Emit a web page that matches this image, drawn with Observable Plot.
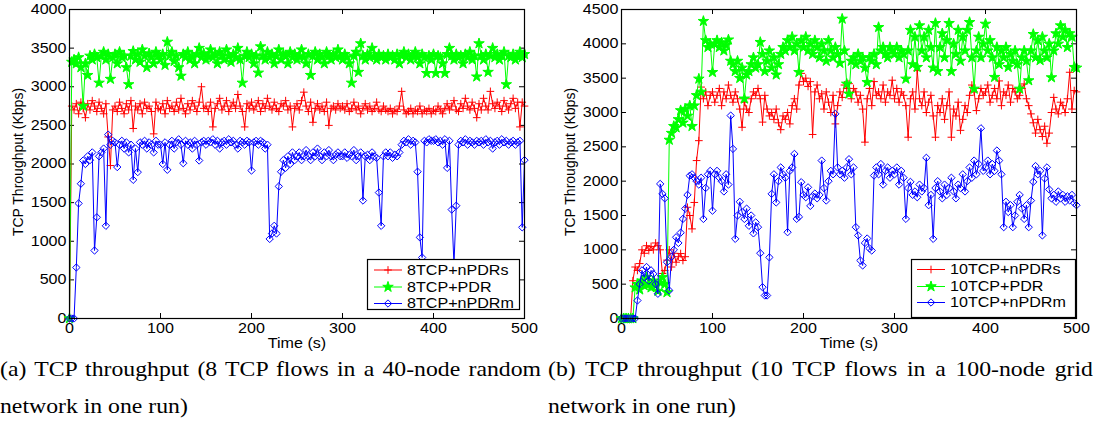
<!DOCTYPE html>
<html><head><meta charset="utf-8">
<script src="https://cdn.jsdelivr.net/npm/d3@7"></script>
<script src="https://cdn.jsdelivr.net/npm/@observablehq/plot@0.6"></script>
<style>
html,body{margin:0;padding:0;background:#fff;}
#root{position:relative;width:1101px;height:426px;overflow:hidden;background:#fff;}
.cap{position:absolute;font-family:"Liberation Serif","Times New Roman",serif;font-size:21px;line-height:21px;color:#000;transform-origin:0 0;white-space:nowrap;}
.cap.j{white-space:normal;text-align:justify;text-align-last:justify;}
</style></head><body><div id="root"></div>
<script>
const timeStep = 2.5;
const xTicks = [0, 100, 200, 300, 400, 500];
const yTicksA = [0, 500, 1000, 1500, 2000, 2500, 3000, 3500, 4000];
const yTicksB = [0, 500, 1000, 1500, 2000, 2500, 3000, 3500, 4000, 4500];
const xLabel = "Time (s)";
const yLabel = "TCP Throughput (Kbps)";
const legendA = ["8TCP+nPDRs", "8TCP+PDR", "8TCP+nPDRm"];
const legendB = ["10TCP+nPDRs", "10TCP+PDR", "10TCP+nPDRm"];
const captionA = ["(a) TCP throughput (8 TCP flows in a 40-node random", "network in one run)"];
const captionB = ["(b) TCP throughput (10 TCP flows in a 100-node grid", "network in one run)"];

const aNPDRs = [
0,2750,2700,2780,2650,2800,2720,2600,2780,2700,2820,2750,2680,2800,2720,2650,2780,2350,1980,2700,
2750,2680,2800,2720,2650,2780,2700,2820,2460,2750,2700,2780,2650,2800,2720,2750,2680,2390,2800,2720,
2700,2780,2650,2820,2720,2750,2680,2800,2700,2850,2720,2650,2780,2700,2820,2750,2680,2800,3000,2720,
2750,2680,2800,2480,2720,2780,2850,2700,2750,2820,2680,2750,2800,2720,2900,2750,2680,2480,2780,2720,
2800,2700,2750,2820,2680,2780,2720,2850,2750,2700,2800,2720,2680,2780,2750,2820,2700,2750,2480,2720,
2780,2700,2820,2930,2750,2680,2800,2540,2720,2780,2700,2750,2680,2800,2500,2720,2750,2700,2780,2720,
2750,2700,2780,2680,2720,2800,2700,2750,2650,2720,2780,2700,2750,2680,2720,2800,2700,2680,2750,2700,
2680,2720,2650,2700,2680,2750,2940,2700,2650,2680,2720,2650,2700,2680,2750,2650,2700,2680,2720,2650,
2700,2680,2750,2700,2650,2720,2780,2700,2750,2820,2700,2680,2780,2720,2850,2750,2700,2800,2720,2600,
2780,2700,2850,2750,2700,2940,2780,2720,2800,2750,2680,2820,2750,2700,2780,2850,2720,2800,2480,2800,
2750];
const aPDR = [
0,3320,3350,3300,3380,3250,2750,3300,3150,3400,3350,3420,3380,3050,3400,3450,3350,3420,3100,3380,
3420,3300,3450,3380,3400,3250,3030,3400,3460,3350,3420,3320,3480,3400,3250,3430,3380,3300,3450,3400,
3350,3420,3280,3580,3400,3450,3330,3400,3250,3140,3420,3380,3450,3350,3400,3300,3420,3500,3380,3430,
3350,3400,3480,3380,3420,3300,3450,3400,3350,3480,3400,3320,3420,3380,3500,3350,3050,3400,3450,3380,
3420,3300,3400,3180,3520,3400,3350,3450,3380,3420,3300,3400,3480,3350,3420,3400,3300,3450,3380,3420,
3350,3400,3480,3380,3300,3420,3150,3400,3450,3350,3420,3380,3300,3450,3400,3350,3420,3380,3480,3400,
3350,3420,3380,3300,3050,3400,3450,3190,3560,3400,3350,3420,3380,3500,3400,3350,3420,3380,3400,3350,
3420,3380,3400,3350,3420,3300,3400,3450,3380,3420,3350,3400,3450,3380,3300,3420,3380,3175,3400,3350,
3420,3175,3400,3380,3300,3175,3420,3500,3400,3350,3420,3380,3400,3300,3420,3380,3450,3350,3400,3130,
3560,3400,3350,3420,3190,3400,3500,3380,3420,3350,3400,3450,3030,3400,3380,3420,3350,3400,3450,3380,
3420];
const aNPDRm = [
0,0,0,660,1490,1745,2045,2000,2100,2050,2150,880,1310,2100,2150,2200,1200,2380,2250,2300,
2280,1960,2250,2300,2200,2280,2150,2250,1795,2200,1895,2280,2250,2300,2200,2280,2250,2150,2300,2250,
2250,2000,2280,1925,2250,2300,2200,2280,2320,2250,2010,2300,2250,2280,2200,2300,2250,2045,2280,2300,
2250,2300,2280,2320,2250,2300,2200,2280,2300,2250,2320,2280,2300,2250,2200,2300,2280,2250,2300,2280,
1915,2280,2300,2250,2300,2280,2200,2250,1030,1100,1200,1100,1710,1900,2050,1950,2100,2000,2150,2050,
2100,2150,2050,2100,2180,2100,2050,2150,2100,2200,2100,2050,2150,2100,2180,2100,2050,2120,2150,2100,
2100,2150,2080,2120,2100,2180,2050,2100,2150,1527,2100,2120,2050,2150,2100,2080,1630,1200,2100,2150,
2100,2150,2080,2120,2100,2150,2250,2300,2280,2320,2250,2300,2280,1900,1050,790,2300,2280,2320,2300,
2300,2320,2280,2300,2250,2320,1950,2300,1410,700,1460,2250,2300,2280,2320,2250,2300,2280,2250,2300,
2280,2300,2250,2320,2280,2300,2200,2280,2300,2250,2320,2280,2300,2250,2280,2300,2250,2280,2300,1180,
2050];

const bNPDRs = [
0,0,0,0,0,550,750,700,800,1000,950,1060,990,1050,1000,1100,1060,1000,655,700,
850,1000,750,950,820,900,946,845,900,1620,1500,1305,1690,2300,2590,3370,3200,3300,3100,3250,
3300,3150,3250,3350,3100,3300,3200,3400,3250,3150,3300,3200,3050,2785,3150,3050,3000,3200,3300,3250,
3350,3200,2860,3250,3050,2950,3000,2900,3050,2850,2750,2950,2900,3000,2834,3100,3200,3050,3400,3570,
3450,3500,3380,3450,2680,3300,3400,3200,3272,3050,3300,3150,3000,3250,2834,3100,3300,3220,3400,3350,
3420,3200,3350,3300,3150,3250,3050,2568,3200,3350,3100,3450,3250,3300,3200,3400,3150,3300,3250,3470,
3200,3350,3150,3300,3250,3100,2640,3200,3300,3050,3610,3200,3100,3300,3000,3150,3250,2950,2640,3100,
3000,3200,2900,3100,3300,2640,3050,2950,3150,2740,2900,3100,3000,3250,3400,3300,3028,3200,3350,3250,
3300,3400,3150,3250,3350,3200,3460,3100,3300,3250,3400,3150,3350,3300,3200,3250,3350,3416,3200,3100,
2980,2850,2700,2900,2750,2650,2800,2552,2700,3000,3220,3050,2980,3150,3100,3000,3200,3586,3050,3320,
3300];
const bPDR = [
0,0,0,0,0,0,450,500,420,550,480,600,500,450,550,480,400,520,600,500,
380,2600,2700,2800,2780,2900,3030,2850,3050,2950,3100,2800,3100,3250,3490,3300,4330,4050,3950,4000,
3586,4000,4050,3950,4020,3900,3980,4060,3750,3700,3600,3750,3500,3650,3200,3550,3600,3700,3800,3650,
3700,4024,3850,3600,3750,3900,3650,3800,3550,3700,3850,3950,3900,4050,3950,4100,3900,4000,3586,4050,
3950,4100,3900,4000,3850,4050,3950,3800,4000,3900,3750,4050,3900,3800,3950,3850,3720,4363,3900,3417,
3272,3750,3800,3700,3850,3750,3800,3650,3440,3800,3750,3850,3700,4241,3900,3950,3850,3800,3950,3900,
3850,3950,3800,3900,3850,3490,3900,4200,3700,4100,3660,4266,3900,4100,3800,4200,3950,3650,4300,3600,
3950,4150,3800,4050,4300,3600,4000,3850,4200,3750,4100,3900,4200,4314,3800,3344,3900,4100,3800,4000,
4290,3900,4050,3800,3515,3950,3700,3900,3800,3950,3660,3850,3750,3900,3700,3344,3800,3900,3750,3466,
3900,4140,3800,4050,3760,4100,3900,3800,4000,3510,3900,4150,4000,4266,4100,4200,3950,4150,4100,3660,
3650];
const bNPDRm = [
0,0,0,0,0,0,0,262,500,700,600,750,550,700,650,500,360,1960,1815,1750,
820,408,900,1000,1183,1100,1250,1450,1600,1800,2080,2100,2050,2000,1950,2050,1450,1900,2100,2150,
1570,2100,2150,2050,2000,1850,2100,1950,2955,2470,1160,1500,1700,1550,1450,1600,1350,1500,1240,1400,
1330,951,456,335,335,890,1815,2100,1690,2000,2200,2100,2050,1257,2150,2200,2397,1451,1480,1985,
1800,1766,1910,1640,1780,1820,1750,1800,2300,1900,1718,2000,2150,2100,2980,2200,2100,2150,2050,2200,
2320,2100,2200,1330,1210,845,772,1100,1165,1020,990,2082,2200,2100,2250,1950,2150,2200,2050,2150,
2100,2200,1950,2150,2050,1451,1900,1990,1800,1850,1766,1950,1850,1900,2340,1650,1800,1160,1900,2000,
1850,1750,1950,1800,1900,2050,1850,1750,1950,1900,2100,1850,2000,2200,2050,2300,2100,2250,2770,2150,
2200,2300,2100,2250,2150,2446,2300,2100,1330,1700,1550,1650,1330,1500,1700,1800,1600,1450,1650,1330,
1717,1990,2220,2100,2150,1210,2040,2200,1880,1750,1800,1700,1850,1750,1800,1700,1780,1720,1800,1680,
1650];

const colors = ["#ff0000", "#00ff00", "#0000ff"];
const symbols = ["plus", "star", "diamond2"];
const symbolR = {plus: 2.6, star: 3.3, diamond2: 3.3};

// ---------- helpers ----------
const toRows = vals => vals.map((v, i) => ({t: i * timeStep, v}));
const SX = 1.15; // horizontal stretch of the sans-serif text in the picture

function stretchText(t, s) {
  const tr = t.getAttribute("transform");
  if (tr && tr.includes("rotate")) return;
  if (tr) t.setAttribute("transform", tr + ` scale(${s},1)`);
  else {
    const x = +t.getAttribute("x") || 0, y = +t.getAttribute("y") || 0;
    t.removeAttribute("x"); t.removeAttribute("y");
    t.setAttribute("transform", `translate(${x},${y}) scale(${s},1)`);
  }
}

function panel({seriesVals, yTicks, yMax, left, width, marginLeft, marginRight}) {
  const H = 350, mt = 9, mb = 32;
  const fw = width - marginLeft - marginRight, fh = H - mt - mb;
  const marks = [
    Plot.tickX(xTicks, {x: d => d, stroke: "black", insetTop: fh - 5}),
    Plot.tickX(xTicks, {x: d => d, stroke: "black", insetBottom: fh - 5}),
    Plot.tickY(yTicks, {y: d => d, stroke: "black", insetRight: fw - 5}),
    Plot.tickY(yTicks, {y: d => d, stroke: "black", insetLeft: fw - 5}),
    Plot.axisX({ticks: xTicks, tickSize: 0, tickPadding: 5, tickFormat: "d", label: null}),
    Plot.axisY({ticks: yTicks, tickSize: 0, tickPadding: 3, tickFormat: "d", label: null})
  ];
  seriesVals.forEach((vals, k) => {
    const rows = toRows(vals);
    marks.push(Plot.line(rows, {x: "t", y: "v", stroke: colors[k], strokeWidth: 1}));
    marks.push(Plot.dot(rows, {x: "t", y: "v", symbol: symbols[k], r: symbolR[symbols[k]],
      stroke: colors[k], strokeWidth: 1, fill: symbols[k] === "star" ? colors[k] : "none"}));
  });
  marks.push(Plot.frame({stroke: "black", strokeWidth: 1.2}));
  marks.push(Plot.text([xLabel], {text: d => d, frameAnchor: "bottom", lineAnchor: "middle", textAnchor: "middle", dy: 25}));
  marks.push(Plot.text([yLabel], {text: d => d, frameAnchor: "left", rotate: -90, textAnchor: "middle", lineAnchor: "middle", dx: -51, dy: -2}));
  const svg = Plot.plot({
    width, height: H,
    marginLeft, marginRight, marginTop: mt, marginBottom: mb,
    x: {domain: [0, 500]},
    y: {domain: [0, yMax]},
    style: {background: "transparent", fontFamily: "'Liberation Sans', Arial, sans-serif", fontSize: "14px", color: "black", overflow: "visible"},
    marks
  });
  svg.style.position = "absolute";
  svg.style.left = left + "px";
  svg.style.top = "0px";
  svg.querySelectorAll("text").forEach(t => stretchText(t, SX));
  return svg;
}

const root = document.getElementById("root");
root.appendChild(panel({seriesVals: [aNPDRs, aPDR, aNPDRm], yTicks: yTicksA, yMax: 4000, left: 0, width: 550, marginLeft: 69, marginRight: 26}));
root.appendChild(panel({seriesVals: [bNPDRs, bPDR, bNPDRm], yTicks: yTicksB, yMax: 4500, left: 550, width: 551, marginLeft: 71, marginRight: 25}));

// ---------- legends ----------
const NS = "http://www.w3.org/2000/svg";
const over = document.createElementNS(NS, "svg");
over.setAttribute("width", 1101); over.setAttribute("height", 426);
over.style.position = "absolute"; over.style.left = "0"; over.style.top = "0";
root.appendChild(over);
function el(name, attrs, parent) {
  const e = document.createElementNS(NS, name);
  for (const k in attrs) e.setAttribute(k, attrs[k]);
  parent.appendChild(e); return e;
}
const d3sym = {plus: d3.symbolPlus, star: d3.symbolStar, diamond2: d3.symbolDiamond2};
function legend(labels, box, rowsY, lineX0, lineX1, textX) {
  el("rect", {x: box[0] + 0.5, y: box[1] + 0.5, width: box[2], height: box[3], fill: "white", stroke: "black", "stroke-width": 1.2}, over);
  labels.forEach((lab, k) => {
    const y = rowsY[k];
    el("line", {x1: lineX0, x2: lineX1, y1: y, y2: y, stroke: colors[k], "stroke-width": 1}, over);
    const r = symbolR[symbols[k]];
    const p = d3.symbol(d3sym[symbols[k]], Math.PI * r * r)();
    el("path", {d: p, transform: `translate(${(lineX0 + lineX1) / 2},${y})`, stroke: colors[k],
      fill: symbols[k] === "star" ? colors[k] : "none", "stroke-width": 1}, over);
    const t = el("text", {transform: `translate(${textX},${y}) scale(${SX},1)`, dy: "0.35em",
      "font-family": "'Liberation Sans', Arial, sans-serif", "font-size": 14, fill: "black"}, over);
    t.textContent = lab;
  });
}
legend(legendA, [367, 259, 152, 50], [270, 287, 303.5], 374, 402, 407);
legend(legendB, [911, 259, 164, 58], [269.5, 286.5, 302.5], 917, 945, 950);

// ---------- captions ----------
function caption(lines, left, width) {
  const s = 1.13;
  const d1 = document.createElement("div");
  d1.className = "cap j";
  d1.style.left = left + "px"; d1.style.top = "359px";
  d1.style.width = (width / s) + "px";
  d1.style.transform = `scaleX(${s})`;
  d1.textContent = lines[0];
  root.appendChild(d1);
  const d2 = document.createElement("div");
  d2.className = "cap";
  d2.style.left = left + "px"; d2.style.top = "396px";
  d2.style.transform = `scaleX(${s})`;
  d2.textContent = lines[1];
  root.appendChild(d2);
}
caption(captionA, 0, 541);
caption(captionB, 548, 545);
</script></body></html>
